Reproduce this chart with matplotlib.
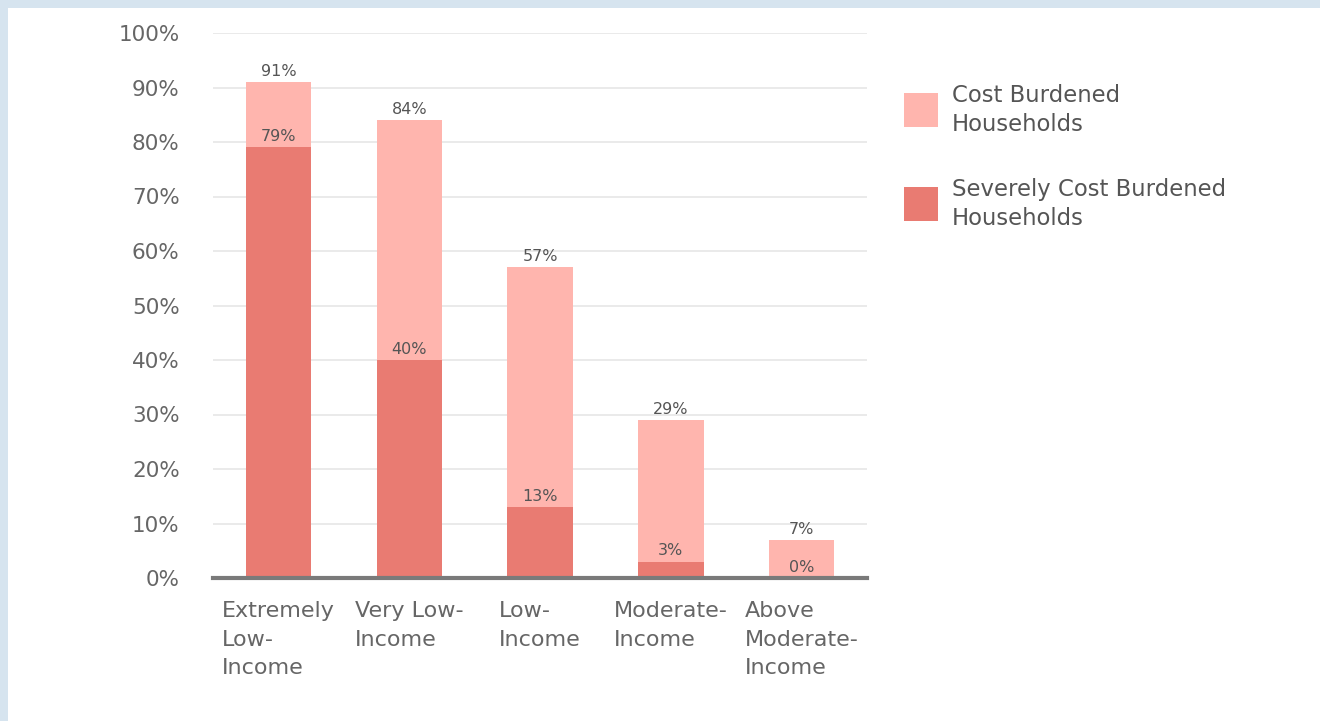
import matplotlib
matplotlib.use("Agg")
import matplotlib.pyplot as plt
from matplotlib.patches import Rectangle

categories = ["Extremely\nLow-\nIncome", "Very Low-\nIncome", "Low-\nIncome",
              "Moderate-\nIncome", "Above\nModerate-\nIncome"]
cost_burdened = [91, 84, 57, 29, 7]
severely_burdened = [79, 40, 13, 3, 0]
yticks = [0, 10, 20, 30, 40, 50, 60, 70, 80, 90, 100]
series_names = ["Cost Burdened\nHouseholds", "Severely Cost Burdened\nHouseholds"]

c_light = "#ffb5ae"
c_dark = "#e97b72"
txt = "#666666"

plt.rcParams['font.family'] = ['DejaVu Sans']

W, H = 1320, 721
fig = plt.figure(figsize=(W / 100, H / 100), dpi=100)
fig.patch.set_facecolor("#d6e4ef")
fig.patches.append(Rectangle((8 / W, 0), 1 - 8 / W, 1 - 8 / H, transform=fig.transFigure,
                             facecolor="white", edgecolor="none", zorder=-5))

ax = fig.add_axes([213 / W, (H - 578) / H, (867 - 213) / W, (578 - 33) / H])
ax.set_zorder(1)
ax.set_facecolor("none")
x = list(range(len(categories)))
ax.bar(x, cost_burdened, width=0.5, color=c_light, zorder=2)
ax.bar(x, severely_burdened, width=0.5, color=c_dark, zorder=3)

for xi, v in zip(x, cost_burdened):
    ax.text(xi, v + 0.6, f"{v}%", ha="center", va="bottom", fontsize=11.5, color="#555555", zorder=5)
for xi, v in zip(x, severely_burdened):
    ax.text(xi, v + 0.6, f"{v}%", ha="center", va="bottom", fontsize=11.5, color="#555555", zorder=5)

ax.set_xlim(-0.5, len(categories) - 0.5)
ax.set_ylim(0, 100)
ax.set_yticks(yticks)
ax.set_yticklabels([f"{t}%" for t in yticks], fontsize=15.5, color=txt)
ax.tick_params(axis="y", length=0, pad=24)
ax.set_xticks([])
ax.grid(axis="y", color="#e6e6e6", linewidth=1.2, zorder=0)
ax.set_axisbelow(True)
for s in ax.spines.values():
    s.set_visible(False)
ax.axhline(0, color="#7a7a7a", linewidth=3, zorder=6, clip_on=False)

for xi, lab in zip(x, categories):
    ax.text(xi, -4.3, lab, ha="center", va="top", multialignment="left",
            fontsize=16, color=txt, linespacing=1.53)

# legend
leg_y = [110, 204]
for (yc, name, col) in zip(leg_y, series_names, [c_light, c_dark]):
    fig.patches.append(Rectangle((904 / W, (H - yc - 17) / H), 34 / W, 34 / H,
                                 transform=fig.transFigure, facecolor=col, edgecolor="none"))
    fig.text(952 / W, (H - yc) / H, name, ha="left", va="center", fontsize=16.4,
             color="#555555", linespacing=1.32)

fig.savefig("out.png", dpi=100, facecolor=fig.get_facecolor())
